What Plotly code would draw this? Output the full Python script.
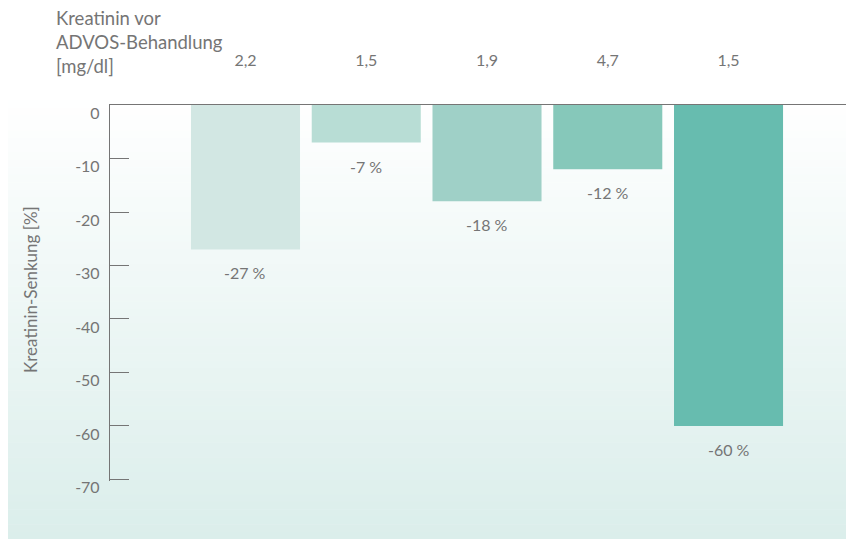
import plotly.graph_objects as go

# data
kreatinin_vorher = ["2,2", "1,5", "1,9", "4,7", "1,5"]
senkung = [-27, -7, -18, -12, -60]
bar_colors = ["#d2e7e3", "#b8ddd5", "#9fd0c7", "#86c8ba", "#67bcaf"]
y_ticks = [0, -10, -20, -30, -40, -50, -60, -70]

# the page adds an 8px body margin, so the figure is 846x531
W, H = 846, 531
L, R, T, B = 102, 0, 97, 58
pw, ph = W - L - R, H - T - B

def px_x(x):
    return (x - L) / pw

def px_y(y):
    return (H - B - y) / ph

grey = "#757575"
font = "Lato"

pos = list(range(len(senkung)))

fig = go.Figure(go.Bar(
    x=pos, y=senkung, width=0.903,
    marker=dict(color=bar_colors, line_width=0),
    hoverinfo="skip",
))

# value labels below the bars
for p, v in zip(pos, senkung):
    fig.add_annotation(x=p, y=v, text=f"{v} %", showarrow=False,
                       xanchor="center", yanchor="top", yshift=-12,
                       font=dict(family=font, size=16, color=grey))

# background gradient (white -> pale teal) over the whole figure
n = 60
y0, y1 = 85, H
top_c, bot_c = (255, 255, 255), (219, 238, 235)
for i in range(n):
    t = i / (n - 1)
    c = tuple(round(a + (b - a) * t) for a, b in zip(top_c, bot_c))
    ya = y0 + (y1 - y0) * i / n
    yb = y0 + (y1 - y0) * (i + 1) / n + 0.5
    fig.add_shape(type="rect", xref="paper", yref="paper",
                  x0=px_x(0), x1=px_x(W), y0=px_y(yb), y1=px_y(ya),
                  fillcolor="rgb(%d,%d,%d)" % c, line_width=0, layer="below")

fig.add_annotation(xref="paper", yref="paper", x=px_x(46), y=px_y(-3),
                   xanchor="left", yanchor="top", align="left", showarrow=False,
                   text="Kreatinin vor<br>ADVOS-Behandlung<br>[mg/dl]",
                   font=dict(family=font, size=18.5, color=grey))

fig.add_annotation(xref="paper", yref="paper", x=px_x(22), y=px_y(282),
                   xanchor="center", yanchor="middle",
                   textangle=-90, showarrow=False,
                   text="Kreatinin-Senkung [%]",
                   font=dict(family=font, size=17, color=grey))

fig.update_layout(
    width=W, height=H,
    margin=dict(l=L, r=R, t=T, b=B, autoexpand=False),
    paper_bgcolor="white", plot_bgcolor="rgba(0,0,0,0)",
    showlegend=False,
    xaxis=dict(range=[-1.122, 5.039], side="top", tickvals=pos,
               ticktext=kreatinin_vorher, ticks="", showgrid=False,
               zeroline=False, showline=True, linecolor=grey, linewidth=1.3,
               ticklabelstandoff=31, automargin=False,
               tickfont=dict(family=font, size=16, color=grey)),
    # range a touch past -70 so the end tick is not clipped
    yaxis=dict(range=[-70.3, 0.02], tickvals=y_ticks,
               ticktext=[str(v) for v in y_ticks],
               ticks="inside", ticklen=19, tickcolor=grey, tickwidth=1.3,
               showline=True, linecolor=grey, linewidth=1.3,
               showgrid=False, zeroline=False, automargin=False,
               ticklabelshift=8, ticklabelstandoff=6,
               tickfont=dict(family=font, size=16, color=grey)),
)

fig.write_html("out.html")
